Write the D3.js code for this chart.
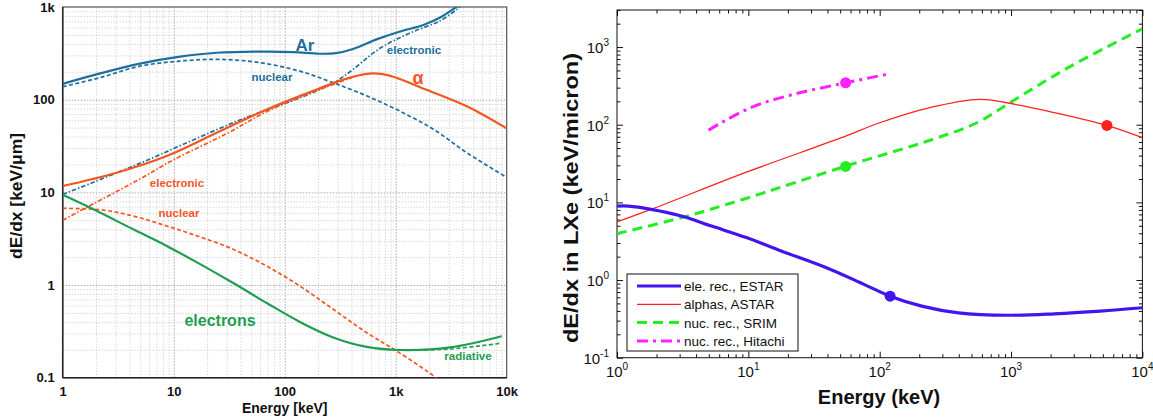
<!DOCTYPE html>
<html><head><meta charset="utf-8">
<script src="https://cdn.jsdelivr.net/npm/d3@7"></script>
<style>
html,body{margin:0;padding:0;background:#fff;}
svg{display:block;font-family:"Liberation Sans",Arial,Helvetica,sans-serif;}
</style></head><body>
<svg id="chart" width="1153" height="419"></svg>
<script>
// ===== Left panel: stopping power vs energy (argon) =====
const leftXTicks = [1, 10, 100, 1000, 10000];
const leftXTickLabels = ["1", "10", "100", "1k", "10k"];
const leftYTicks = [0.1, 1, 10, 100, 1000];
const leftYTickLabels = ["0.1", "1", "10", "100", "1k"];

// [energy keV, dE/dx keV/um]
const arTotal = [[1,148],[2.17,192],[4.97,245],[11.4,291],[24.4,321],[69,330],[120,326],[208,313],[290,318],[420,355],[680,450],[1096,545],[1778,640],[2512,770],[3800,1070]];
const arNuclear = [[1,138],[2.17,173],[4.97,230],[11.4,261],[26.1,272],[59.8,251],[137,203],[274,152],[548,110],[1096,75],[2183,48],[4365,26.8],[10000,14.5]];
const arElectronic = [[1,9.5],[4.32,19.2],[34.4,56.5],[274,152],[740,365],[1350,525],[2512,710],[3800,1000]];
const alphaTotal = [[1,11.7],[3.06,16.3],[8.65,24.7],[24.4,44],[68.9,78.5],[194,129],[387,173],[628,192],[950,177],[1660,136],[4365,85],[10000,49]];
const alphaElectronic = [[1,5.0],[2,7.8],[5,14],[10,22.5],[30,43],[70,75],[200,127],[400,172]];
const alphaNuclear = [[1,6.7],[2.17,6.5],[4.32,5.55],[8.65,4.33],[17.3,3.3],[34.4,2.43],[68.9,1.6],[137,0.975],[274,0.547],[548,0.306],[1021,0.194],[2183,0.105],[2400,0.094]];
const electronTotal = [[1,9.4],[1.89,6.56],[4.32,3.99],[8.65,2.64],[17.3,1.68],[34.4,1.05],[68.9,0.64],[137,0.40],[274,0.272],[548,0.215],[1096,0.199],[3090,0.212],[9016,0.28]];
const electronRadiative = [[700,0.205],[1096,0.199],[3090,0.204],[9016,0.236]];

// ===== Right panel: dE/dx in liquid xenon =====
const rightXTicks = [1, 10, 100, 1000, 10000];
const rightXExponents = ["0", "1", "2", "3", "4"];
const rightYTicks = [0.1, 1, 10, 100, 1000];
const rightYExponents = ["-1", "0", "1", "2", "3"];

const estar = [[1,8.96],[1.22,8.96],[1.82,8.13],[3.09,6.67],[5.25,4.95],[9.66,3.52],[18,2.35],[38.9,1.45],[75.9,0.88],[120,0.62],[209,0.462],[398,0.378],[966,0.352],[2138,0.367],[4786,0.398],[10000,0.44]];
const astar = [[1,5.6],[1.88,8.3],[10,25],[50,67],[100,106],[241,166],[577,212],[1096,182],[2800,129],[5370,98],[10000,68]];
const srim = [[1,3.96],[3.09,6.35],[9.06,10.9],[54,29],[255,65],[562,108],[980,192],[2680,535],[10000,1720]];
const hitachi = [[4.97,85],[10.4,166],[22.9,250],[55.6,347],[112,444]];
const markers = [
  {series: "ESTAR", e: 120, v: 0.62},
  {series: "ASTAR", e: 5370, v: 98},
  {series: "SRIM", e: 55, v: 29},
  {series: "Hitachi", e: 55, v: 347}
];
const legendLabels = ["ele. rec., ESTAR", "alphas, ASTAR", "nuc. rec., SRIM", "nuc. rec., Hitachi"];

const svg = d3.select("#chart");

// ---------- Left panel ----------
const L = {x0: 62.7, x1: 506.7, y0: 7, y1: 377.7};
const xL = d3.scaleLog().domain([1, 1e4]).range([L.x0, L.x1]);
const yL = d3.scaleLog().domain([0.1, 1000]).range([L.y1, L.y0]);

const minorOf = (decades, maxV) => {
  const out = [];
  decades.forEach(d => { for (let k = 2; k <= 9; k++) { if (!maxV || k * d <= maxV) out.push(k * d); } });
  return out;
};

const gl = svg.append("g");
// dotted grid
const gridStyle = (sel, color, dash) => {
  sel.select(".domain").remove();
  sel.selectAll("line").attr("stroke", color).attr("stroke-width", 1).attr("stroke-dasharray", dash);
  sel.selectAll("text").remove();
};
gl.append("g").attr("transform", `translate(0,${L.y1})`)
  .call(d3.axisBottom(xL).tickValues(minorOf([1,10,100,1000])).tickSize(-(L.y1 - L.y0)).tickFormat(""))
  .call(s => gridStyle(s, "#c4c4c4", "1,2"));
gl.append("g").attr("transform", `translate(${L.x0},0)`)
  .call(d3.axisLeft(yL).tickValues(minorOf([0.1,1,10,100])).tickSize(-(L.x1 - L.x0)).tickFormat(""))
  .call(s => gridStyle(s, "#c4c4c4", "1,2"));
gl.append("g").attr("transform", `translate(0,${L.y1})`)
  .call(d3.axisBottom(xL).tickValues([10,100,1000]).tickSize(-(L.y1 - L.y0)).tickFormat(""))
  .call(s => gridStyle(s, "#a8a8a8", "1.5,1.5"));
gl.append("g").attr("transform", `translate(${L.x0},0)`)
  .call(d3.axisLeft(yL).tickValues([1,10,100]).tickSize(-(L.x1 - L.x0)).tickFormat(""))
  .call(s => gridStyle(s, "#a8a8a8", "1.5,1.5"));

// frame
gl.append("rect").attr("x", L.x0).attr("y", L.y0).attr("width", L.x1 - L.x0).attr("height", L.y1 - L.y0)
  .attr("fill", "none").attr("stroke", "#555").attr("stroke-width", 1.2);
gl.append("line").attr("x1", L.x0).attr("x2", L.x0).attr("y1", L.y0).attr("y2", L.y1).attr("stroke", "#222").attr("stroke-width", 1.5);
gl.append("line").attr("x1", L.x0).attr("x2", L.x1).attr("y1", L.y1).attr("y2", L.y1).attr("stroke", "#222").attr("stroke-width", 1.5);

// tick labels via axes
gl.append("g").attr("transform", `translate(0,${L.y1})`)
  .call(d3.axisBottom(xL).tickValues(leftXTicks).tickSize(0).tickPadding(9).tickFormat((d, i) => leftXTickLabels[i]))
  .call(s => { s.select(".domain").remove(); s.selectAll("text").attr("font-size", 13).attr("font-weight", "bold").attr("fill", "#111").attr("font-family", null); });
gl.append("g").attr("transform", `translate(${L.x0},0)`)
  .call(d3.axisLeft(yL).tickValues(leftYTicks).tickSize(0).tickPadding(8).tickFormat((d, i) => leftYTickLabels[i]))
  .call(s => { s.select(".domain").remove(); s.selectAll("text").attr("font-size", 13).attr("font-weight", "bold").attr("fill", "#111").attr("font-family", null); });

gl.append("text").attr("x", (L.x0 + L.x1) / 2).attr("y", 413).attr("text-anchor", "middle")
  .attr("font-size", 14).attr("font-weight", "bold").attr("fill", "#111").text("Energy [keV]");
gl.append("text").attr("transform", "translate(22,196) rotate(-90)").attr("text-anchor", "middle")
  .attr("font-size", 16).attr("font-weight", "bold").attr("fill", "#111")
  .attr("textLength", 126).attr("lengthAdjust", "spacingAndGlyphs").text("dE/dx [keV/μm]");

svg.append("clipPath").attr("id", "clipL").append("rect")
  .attr("x", L.x0).attr("y", L.y0).attr("width", L.x1 - L.x0).attr("height", L.y1 - L.y0);

const lineL = d3.line().x(d => xL(d[0])).y(d => yL(d[1])).curve(d3.curveCatmullRom.alpha(0.5));
const cAr = "#1d6f9c", cAlpha = "#f4561f", cEl = "#1f9e52";
const DASH = "4,2.5", DASHDOT = "4.5,2,1.5,2";
const curvesL = [
  {d: arNuclear, c: cAr, w: 1.7, dash: DASH},
  {d: arElectronic, c: cAr, w: 1.7, dash: DASHDOT},
  {d: alphaNuclear, c: cAlpha, w: 1.7, dash: DASH},
  {d: alphaElectronic, c: cAlpha, w: 1.7, dash: DASHDOT},
  {d: electronRadiative, c: cEl, w: 1.7, dash: DASH},
  {d: arTotal, c: cAr, w: 2.2, dash: null},
  {d: alphaTotal, c: cAlpha, w: 2.2, dash: null},
  {d: electronTotal, c: cEl, w: 2.2, dash: null}
];
const gcl = gl.append("g").attr("clip-path", "url(#clipL)");
curvesL.forEach(s => {
  gcl.append("path").attr("d", lineL(s.d)).attr("fill", "none").attr("stroke", s.c)
    .attr("stroke-width", s.w).attr("stroke-dasharray", s.dash);
});

const labelsL = [
  {t: "Ar", x: 305, y: 51, c: cAr, s: 17},
  {t: "nuclear", x: 272, y: 81, c: cAr, s: 11.5},
  {t: "electronic", x: 414, y: 54, c: cAr, s: 11.5},
  {t: "α", x: 418, y: 84, c: cAlpha, s: 18},
  {t: "electronic", x: 177, y: 187, c: cAlpha, s: 11.5},
  {t: "nuclear", x: 179, y: 217, c: cAlpha, s: 11.5},
  {t: "electrons", x: 220, y: 326, c: cEl, s: 16},
  {t: "radiative", x: 468, y: 360, c: cEl, s: 11.5}
];
labelsL.forEach(l => gl.append("text").attr("x", l.x).attr("y", l.y).attr("text-anchor", "middle")
  .attr("font-size", l.s).attr("font-weight", "bold").attr("fill", l.c).text(l.t));

// ---------- Right panel ----------
const R = {x0: 617, x1: 1142.4, y0: 10, y1: 357.7};
const xR = d3.scaleLog().domain([1, 1e4]).range([R.x0, R.x1]);
const yR = d3.scaleLog().domain([0.1, 3000]).range([R.y1, R.y0]);
const gr = svg.append("g");

gr.append("rect").attr("x", R.x0).attr("y", R.y0).attr("width", R.x1 - R.x0).attr("height", R.y1 - R.y0)
  .attr("fill", "none").attr("stroke", "#111").attr("stroke-width", 1);

const xMinorR = minorOf([1,10,100,1000]);
const yMinorR = minorOf([0.1,1,10,100,1000], 3000);
const tickStyle = s => { s.select(".domain").remove(); s.selectAll("text").remove(); s.selectAll("line").attr("stroke", "#111").attr("stroke-width", 1); };
// inward ticks on all four sides
[[d3.axisBottom, R.y1], [d3.axisTop, R.y0]].forEach(([ax, y]) => {
  gr.append("g").attr("transform", `translate(0,${y})`).call(ax(xR).tickValues(rightXTicks).tickSize(-6)).call(tickStyle);
  gr.append("g").attr("transform", `translate(0,${y})`).call(ax(xR).tickValues(xMinorR).tickSize(-3.5)).call(tickStyle);
});
[[d3.axisLeft, R.x0], [d3.axisRight, R.x1]].forEach(([ax, x]) => {
  gr.append("g").attr("transform", `translate(${x},0)`).call(ax(yR).tickValues(rightYTicks).tickSize(-6)).call(tickStyle);
  gr.append("g").attr("transform", `translate(${x},0)`).call(ax(yR).tickValues(yMinorR).tickSize(-3.5)).call(tickStyle);
});

// power-of-ten tick labels
rightXTicks.forEach((v, i) => {
  const t = gr.append("text").attr("x", xR(v)).attr("y", 377).attr("text-anchor", "middle")
    .attr("font-size", 15).attr("fill", "#111");
  t.append("tspan").text("10");
  t.append("tspan").attr("dy", -7).attr("font-size", 10).text(rightXExponents[i]);
});
rightYTicks.forEach((v, i) => {
  const t = gr.append("text").attr("x", 609).attr("y", yR(v) + 6).attr("text-anchor", "end")
    .attr("font-size", 15).attr("fill", "#111");
  t.append("tspan").text("10");
  t.append("tspan").attr("dy", -7).attr("font-size", 10).text(rightYExponents[i]);
});

gr.append("text").attr("x", 879).attr("y", 404).attr("text-anchor", "middle")
  .attr("font-size", 20).attr("font-weight", "bold").attr("fill", "#111").text("Energy (keV)");
gr.append("text").attr("transform", "translate(578,198) rotate(-90)").attr("text-anchor", "middle")
  .attr("font-size", 20).attr("font-weight", "bold").attr("fill", "#111")
  .attr("textLength", 290).attr("lengthAdjust", "spacingAndGlyphs").text("dE/dx in LXe (keV/micron)");

svg.append("clipPath").attr("id", "clipR").append("rect")
  .attr("x", R.x0).attr("y", R.y0).attr("width", R.x1 - R.x0).attr("height", R.y1 - R.y0);

const lineR = d3.line().x(d => xR(d[0])).y(d => yR(d[1])).curve(d3.curveCatmullRom.alpha(0.5));
const styleR = {
  ESTAR: {c: "#4214f0", w: 3.2, dash: null},
  ASTAR: {c: "#ff2020", w: 1.3, dash: null},
  SRIM: {c: "#22ee22", w: 3, dash: "10,6"},
  Hitachi: {c: "#ff22ff", w: 3, dash: "11,5,3,5"}
};
const seriesR = [["SRIM", srim], ["ASTAR", astar], ["Hitachi", hitachi], ["ESTAR", estar]];
const gcr = gr.append("g").attr("clip-path", "url(#clipR)");
seriesR.forEach(([k, d]) => {
  const s = styleR[k];
  gcr.append("path").attr("d", lineR(d)).attr("fill", "none").attr("stroke", s.c)
    .attr("stroke-width", s.w).attr("stroke-dasharray", s.dash);
});
gcr.selectAll("circle").data(markers).join("circle")
  .attr("cx", d => xR(d.e)).attr("cy", d => yR(d.v)).attr("r", 5.5)
  .attr("fill", d => styleR[d.series].c);

// legend
const lg = gr.append("g");
lg.append("rect").attr("x", 627).attr("y", 274).attr("width", 171).attr("height", 77)
  .attr("fill", "#fff").attr("stroke", "#111").attr("stroke-width", 1);
["ESTAR", "ASTAR", "SRIM", "Hitachi"].forEach((k, i) => {
  const y = 286 + i * 18.3;
  const s = styleR[k];
  lg.append("line").attr("x1", 637).attr("x2", 681).attr("y1", y).attr("y2", y)
    .attr("stroke", s.c).attr("stroke-width", s.w).attr("stroke-dasharray", s.dash);
  lg.append("text").attr("x", 684).attr("y", y + 5).attr("font-size", 13.5).attr("fill", "#111").text(legendLabels[i]);
});
</script>
</body></html>
